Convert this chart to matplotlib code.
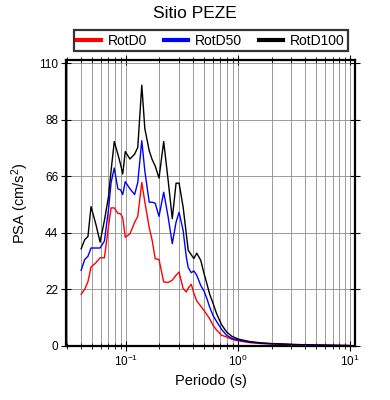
import matplotlib
matplotlib.use("Agg")
import matplotlib.pyplot as plt
from matplotlib.ticker import LogLocator, FixedLocator, NullFormatter

plt.rcParams['font.family'] = ['Liberation Sans', 'DejaVu Sans']
plt.rcParams['mathtext.fontset'] = 'custom'
plt.rcParams['mathtext.rm'] = 'Liberation Sans'
plt.rcParams['mathtext.it'] = 'Liberation Sans:italic'

title = "Sitio PEZE"
series_names = ["RotD0", "RotD50", "RotD100"]
series_colors = ["#ff0000", "#0000ff", "#000000"]

period = [0.040, 0.043, 0.046, 0.049, 0.054, 0.059, 0.0645, 0.070, 0.074, 0.079,
          0.085, 0.090, 0.094, 0.099, 0.109, 0.120, 0.128, 0.139, 0.148, 0.162,
          0.172, 0.183, 0.198, 0.218, 0.239, 0.260, 0.281, 0.299, 0.325, 0.347,
          0.361, 0.384, 0.405, 0.430, 0.467, 0.497, 0.529, 0.562, 0.602, 0.645,
          0.715, 0.793, 0.883, 1.006, 1.28, 1.64, 2.01, 3.04, 5.07, 8.1, 10.0]

rotd100 = [37.8, 41.3, 42.6, 54.2, 47.5, 40.4, 48.8, 57.8, 68.2, 79.5,
           74.6, 70.5, 66.9, 75.6, 72.7, 74.6, 77.2, 101.4, 84.5, 75.9,
           72.5, 70.0, 65.3, 79.5, 64.3, 49.5, 63.3, 63.3, 54.0, 43.5,
           37.2, 35.5, 34.0, 36.1, 33.3, 28.5, 24.3, 20.0, 16.5, 12.7,
           8.3, 5.5, 3.8, 2.7, 1.7, 1.2, 0.95, 0.62, 0.38, 0.22, 0.18]

rotd50 = [29.4, 33.6, 34.9, 38.1, 38.1, 38.1, 40.8, 52.7, 63.6, 69.2,
          61.1, 60.7, 58.9, 63.9, 61.1, 58.9, 63.6, 79.8, 68.0, 55.9,
          55.9, 55.5, 50.4, 59.8, 50.1, 39.8, 48.1, 52.0, 44.9, 34.6,
          30.5, 28.5, 29.2, 27.5, 23.5, 21.5, 18.5, 15.0, 11.8, 9.6,
          6.5, 4.2, 3.0, 2.3, 1.5, 1.05, 0.85, 0.57, 0.35, 0.20, 0.16]

rotd0 = [20.1, 22.0, 25.0, 30.7, 32.3, 34.3, 34.3, 46.2, 53.7, 53.7,
         51.6, 51.4, 49.8, 42.3, 43.6, 48.1, 50.4, 63.6, 56.0, 46.0,
         41.1, 34.0, 33.6, 24.9, 24.7, 25.6, 27.5, 28.8, 22.3, 21.0,
         22.5, 24.0, 20.5, 17.5, 15.5, 13.9, 12.2, 10.5, 8.0, 6.2,
         4.2, 3.5, 2.6, 2.0, 1.3, 0.95, 0.78, 0.52, 0.32, 0.19, 0.15]

y_ticks = [0, 22, 44, 66, 88, 110]

fig = plt.figure(figsize=(3.9, 4.0), dpi=100)
ax = fig.add_axes([66/390, 1-346/400, (355-66)/390, (346-60)/400])

for vals, name, col in zip([rotd0, rotd50, rotd100], series_names, series_colors):
    ax.plot(period, vals, color=col, lw=1.0, label=name, zorder=3)

ax.set_xscale('log')
ax.set_xlim(0.0293, 11.1)
ax.set_ylim(0, 111.2)
ax.yaxis.set_major_locator(FixedLocator(y_ticks))
ax.xaxis.set_major_locator(LogLocator(base=10, numticks=10))
ax.xaxis.set_minor_locator(LogLocator(base=10, subs=range(2, 10), numticks=20))
ax.xaxis.set_minor_formatter(NullFormatter())

ax.grid(True, which='both', axis='x', color='#8c8c8c', lw=0.6, zorder=0)
ax.grid(True, which='major', axis='y', color='#8c8c8c', lw=0.6, zorder=0)

for s in ax.spines.values():
    s.set_linewidth(1.6)
ax.tick_params(which='major', direction='inout', length=7, width=0.8,
               top=True, right=True, labelsize=8.5, pad=2)
ax.tick_params(which='minor', direction='inout', length=4, width=0.6,
               top=True, right=True)

ax.set_xlabel("Periodo (s)", fontsize=10.5, labelpad=4)
ax.set_ylabel("PSA (cm/s$^2$)", fontsize=10.5, labelpad=6)
fig.text(0.5, 1-13/400, title, ha='center', va='center', fontsize=12.5)

leg = fig.legend(loc='lower left', ncol=3, mode='expand',
                 bbox_to_anchor=(74/390, 1-51/400, 274/390, 22/400),
                 frameon=True, fancybox=False, fontsize=10,
                 handlelength=1.7, handletextpad=0.5, columnspacing=1.0,
                 borderpad=0.25, borderaxespad=0.0)
leg.get_frame().set_edgecolor('black')
leg.get_frame().set_linewidth(1.6)
for h in leg.get_lines():
    h.set_linewidth(3.0)

fig.savefig("out.png", dpi=100)
